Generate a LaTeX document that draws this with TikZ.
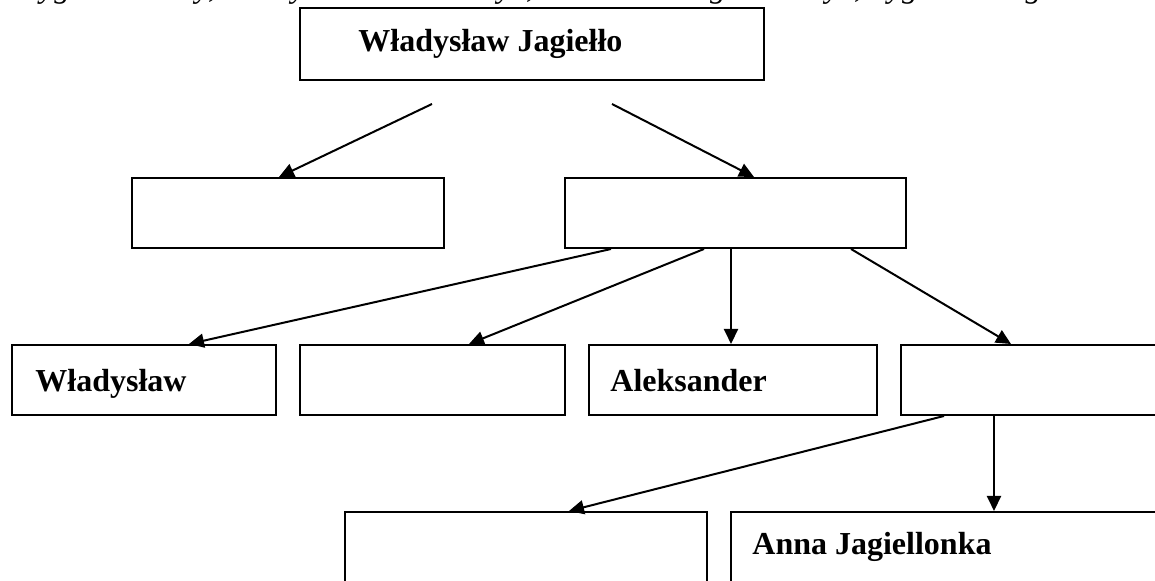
\documentclass[tikz,border=0pt]{standalone}
\usepackage{fontspec}
\setmainfont{Liberation Serif}
\usetikzlibrary{arrows.meta}
\begin{document}
\begin{tikzpicture}[x=0.5pt,y=-0.5pt,
  box/.style={draw, line width=1pt, rectangle, inner sep=0pt},
  lbl/.style={anchor=base west, inner sep=0pt, font=\fontsize{16}{19}\selectfont\bfseries},
  hdr/.style={anchor=base west, inner sep=0pt, font=\fontsize{16}{19}\selectfont\itshape},
  conn/.style={line width=1pt, -{Triangle[length=7.5pt,width=7pt]}},
]
\useasboundingbox (0,0) rectangle (1155,581);
% cut-off heading
\node[hdr] (head) at (22,-2) {Zygmunt Stary, Władysław Warneńczyk, Kazimierz Jagiellończyk, Zygmunt August};
% boxes
\node[box, minimum width=232pt, minimum height=36pt] (J) at (532,44) {};
\node[box, minimum width=156pt, minimum height=35pt] (A) at (288,213) {};
\node[box, minimum width=170.5pt, minimum height=35pt] (B) at (735.5,213) {};
\node[box, minimum width=132pt, minimum height=35pt] (C1) at (144,380) {};
\node[box, minimum width=132.5pt, minimum height=35pt] (C2) at (432.5,380) {};
\node[box, minimum width=144pt, minimum height=35pt] (C3) at (733,380) {};
\node[box, minimum width=137pt, minimum height=35pt] (C4) at (1038,380) {};
\node[box, minimum width=181pt, minimum height=44pt] (D1) at (526,556) {};
\node[box, minimum width=222pt, minimum height=44pt] (D2) at (953,556) {};
% labels
\node[lbl] (lJ) at (358,52) {Władysław Jagiełło};
\node[lbl] (lC1) at (35,392) {Władysław};
\node[lbl] (lC3) at (610,392) {Aleksander};
\node[lbl] (lD2) at (752,555) {Anna Jagiellonka};
% free starts below top box
\coordinate (t1) at (432,104);
\coordinate (t2) at (612,104);
% connectors
\draw[conn] (t1) -- ([xshift=74pt]A.north west);
\draw[conn] (t2) -- ([xshift=95pt]B.north west);
\draw[conn] ([xshift=23.5pt]B.south west) -- ([xshift=89pt]C1.north west);
\draw[conn] ([xshift=70pt]B.south west) -- ([xshift=85pt]C2.north west);
\draw[conn] ([xshift=83.5pt]B.south west) -- ([xshift=71.5pt]C3.north west);
\draw[conn] ([xshift=143.5pt]B.south west) -- ([xshift=55.5pt]C4.north west);
\draw[conn] ([xshift=22pt]C4.south west) -- ([xshift=112.5pt]D1.north west);
\draw[conn] ([xshift=47pt]C4.south west) -- ([xshift=132pt]D2.north west);
\end{tikzpicture}
\end{document}
